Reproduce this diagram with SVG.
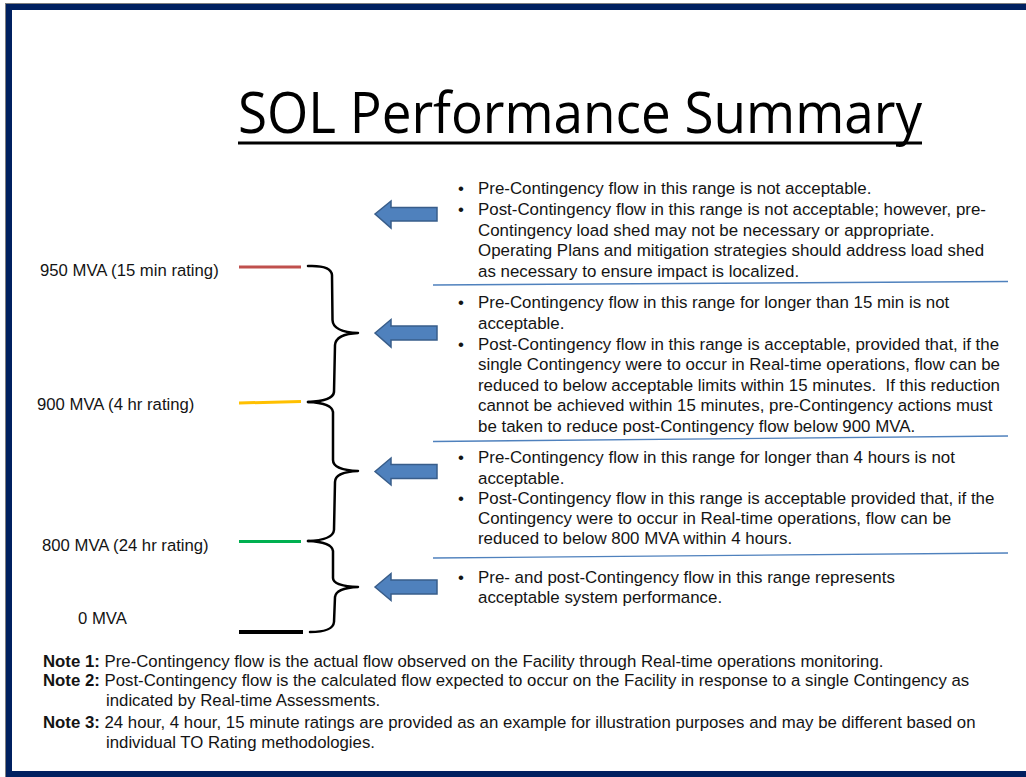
<svg xmlns="http://www.w3.org/2000/svg" width="1026" height="777" viewBox="0 0 1026 777">
<defs>
<style>
.t{font-family:"Liberation Sans",Arial,sans-serif;font-size:16.9px;fill:#141414}
.lbl{font-family:"Liberation Sans",Arial,sans-serif;font-size:16.7px;fill:#141414}
.n{font-family:"Liberation Sans",Arial,sans-serif;font-size:16.8px;fill:#141414}
.b{font-weight:bold}
.brace{fill:none;stroke:#000;stroke-width:2.5;stroke-linejoin:round;stroke-linecap:round}
.arrow{fill:#4F81BD;stroke:#385D8A;stroke-width:1.5;stroke-linejoin:miter}
.sep{stroke:#4F81BD;stroke-width:1.4;fill:none}
.title{font-family:"Open Sans","Liberation Sans",sans-serif;font-size:56px;fill:#000}
</style>
</defs>
<rect x="0" y="0" width="1026" height="777" fill="#fff"/>
<rect x="5.5" y="3.5" width="1040" height="790" fill="none" stroke="#7f7f7f" stroke-width="1"/>
<rect x="9" y="7" width="1040" height="767" fill="none" stroke="#002060" stroke-width="6"/>

<g id="title">
<text class="title" x="238" y="133" textLength="684" lengthAdjust="spacingAndGlyphs">SOL Performance Summary</text>
<line x1="238" y1="143" x2="922" y2="143" stroke="#000" stroke-width="3"/>
</g>

<g id="level-950">
<line x1="239" y1="267" x2="301" y2="267" stroke="#C0504D" stroke-width="3"/>
<text class="lbl" x="40" y="276">950 MVA (15 min rating)</text>
</g>
<g id="level-900">
<line x1="239" y1="403" x2="301" y2="401.5" stroke="#FFC000" stroke-width="3"/>
<text class="lbl" x="37" y="410">900 MVA (4 hr rating)</text>
</g>
<g id="level-800">
<line x1="239" y1="541.5" x2="301" y2="541.5" stroke="#00B050" stroke-width="3"/>
<text class="lbl" x="42" y="551">800 MVA (24 hr rating)</text>
</g>
<g id="level-0">
<line x1="239" y1="632" x2="303" y2="632" stroke="#000" stroke-width="4"/>
<text class="lbl" x="78" y="624">0 MVA</text>
</g>

<g id="connectors">
<path class="brace" d="M308,266 Q331,265 332,275 L332.5,320 Q333,332 358,333 Q336,334 335,345 L334,392 Q333,401 308,402"/>
<path class="brace" d="M308,402 Q332,403 333,412 L333,460 Q333,470 358,471 Q335,472 335,482 L334,530 Q333,540 308,541"/>
<path class="brace" d="M308,541 Q332,542 333,551 L333,578 Q333,586 358,587 Q336,588 335,597 L334,622 Q333,632 310,632"/>
<path class="arrow" d="M375,214 L391,201 L391,207.5 L437,207.5 L437,221 L391,221 L391,228 Z"/>
<path class="arrow" d="M375,333 L391,319.5 L391,326 L437,326 L437,340 L391,340 L391,347 Z"/>
<path class="arrow" d="M375,471.5 L391,458 L391,464.5 L437,464.5 L437,478.5 L391,478.5 L391,485 Z"/>
<path class="arrow" d="M375,587 L391,573.5 L391,580 L437,580 L437,594 L391,594 L391,600.5 Z"/>
</g>

<g id="separators">
<line class="sep" x1="433" y1="285" x2="1008" y2="281.5"/>
<line class="sep" x1="433" y1="441.5" x2="1008" y2="436"/>
<line class="sep" x1="433" y1="558" x2="1008" y2="553"/>
</g>

<g id="block-above-950">
<text class="t" x="458" y="194">•</text>
<text class="t" x="478" y="194">Pre-Contingency flow in this range is not acceptable.</text>
<text class="t" x="458" y="215">•</text>
<text class="t" x="478" y="215">Post-Contingency flow in this range is not acceptable; however, pre-</text>
<text class="t" x="478" y="236">Contingency load shed may not be necessary or appropriate.</text>
<text class="t" x="478" y="256">Operating Plans and mitigation strategies should address load shed</text>
<text class="t" x="478" y="277">as necessary to ensure impact is localized.</text>
</g>

<g id="block-900-950">
<text class="t" x="458" y="308">•</text>
<text class="t" x="478" y="308">Pre-Contingency flow in this range for longer than 15 min is not</text>
<text class="t" x="478" y="329">acceptable.</text>
<text class="t" x="458" y="350">•</text>
<text class="t" x="478" y="350">Post-Contingency flow in this range is acceptable, provided that, if the</text>
<text class="t" x="478" y="370">single Contingency were to occur in Real-time operations, flow can be</text>
<text class="t" x="478" y="391">reduced to below acceptable limits within 15 minutes.&#160; If this reduction</text>
<text class="t" x="478" y="411">cannot be achieved within 15 minutes, pre-Contingency actions must</text>
<text class="t" x="478" y="432">be taken to reduce post-Contingency flow below 900 MVA.</text>
</g>

<g id="block-800-900">
<text class="t" x="458" y="463">•</text>
<text class="t" x="478" y="463">Pre-Contingency flow in this range for longer than 4 hours is not</text>
<text class="t" x="478" y="484">acceptable.</text>
<text class="t" x="458" y="504">•</text>
<text class="t" x="478" y="504">Post-Contingency flow in this range is acceptable provided that, if the</text>
<text class="t" x="478" y="524">Contingency were to occur in Real-time operations, flow can be</text>
<text class="t" x="478" y="544">reduced to below 800 MVA within 4 hours.</text>
</g>

<g id="block-0-800">
<text class="t" x="458" y="583">•</text>
<text class="t" x="478" y="583">Pre- and post-Contingency flow in this range represents</text>
<text class="t" x="478" y="603">acceptable system performance.</text>
</g>

<g id="notes">
<text class="n" x="43" y="667"><tspan class="b">Note 1:</tspan> Pre-Contingency flow is the actual flow observed on the Facility through Real-time operations monitoring.</text>
<text class="n" x="43" y="686"><tspan class="b">Note 2:</tspan> Post-Contingency flow is the calculated flow expected to occur on the Facility in response to a single Contingency as</text>
<text class="n" x="106" y="706">indicated by Real-time Assessments.</text>
<text class="n" x="43" y="728"><tspan class="b">Note 3:</tspan> 24 hour, 4 hour, 15 minute ratings are provided as an example for illustration purposes and may be different based on</text>
<text class="n" x="106" y="748">individual TO Rating methodologies.</text>
</g>
</svg>
